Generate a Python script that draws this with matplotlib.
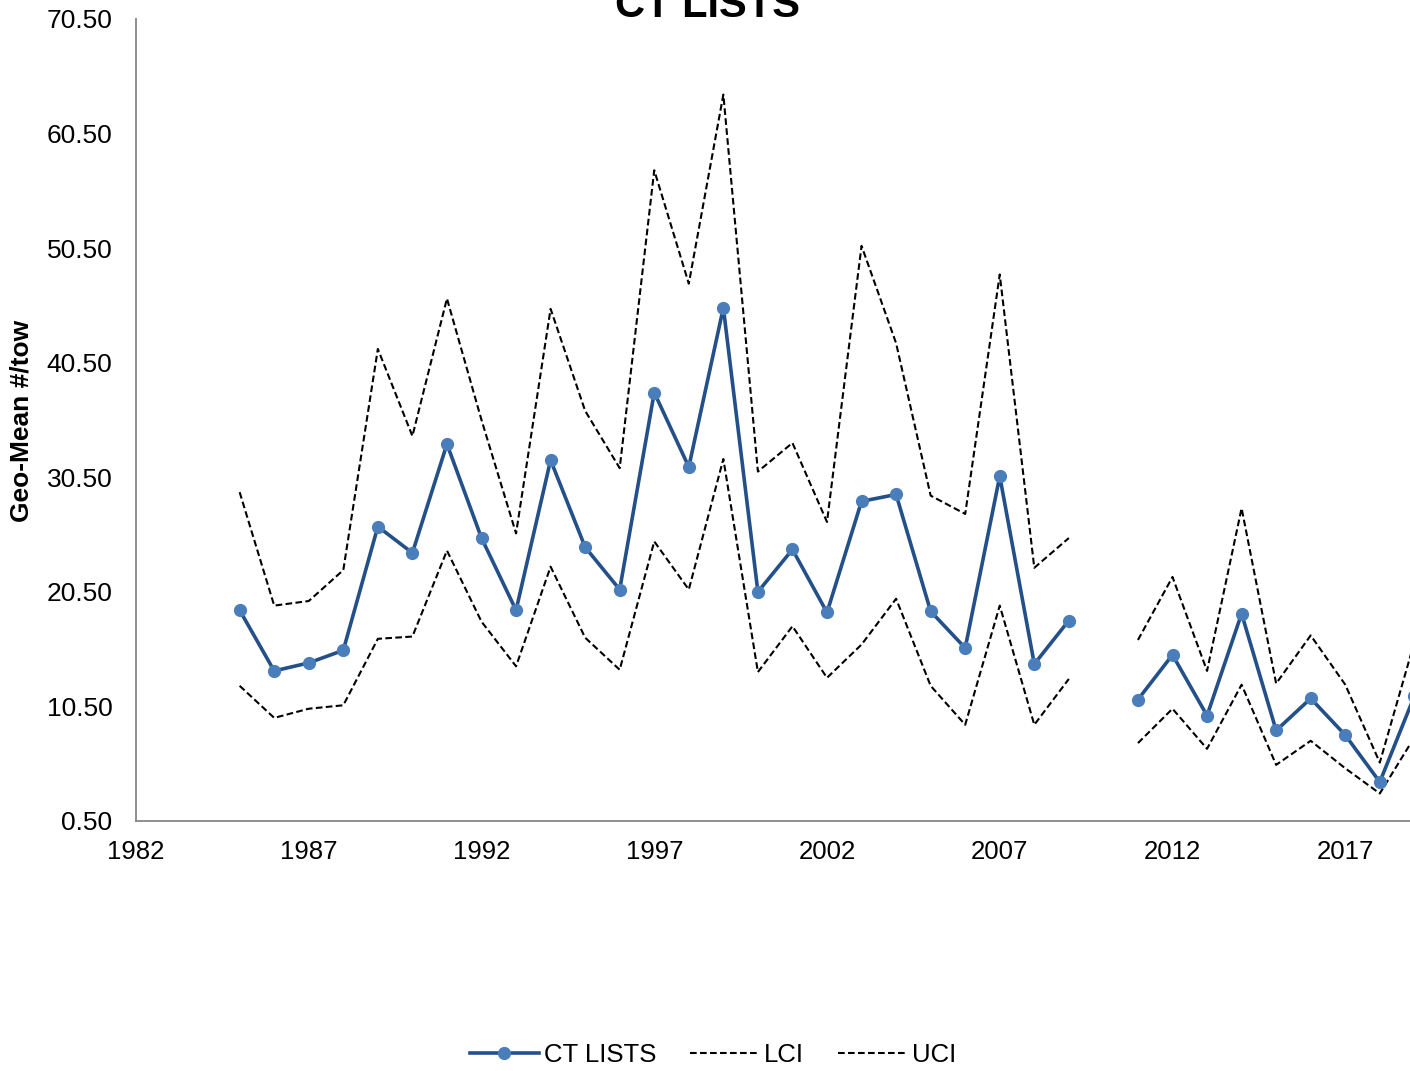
import matplotlib
matplotlib.use("Agg")
import matplotlib.pyplot as plt
import numpy as np

plt.rcParams['font.family'] = ['Liberation Sans', 'DejaVu Sans']

# Survey years (2010 has no estimate)
years = [1985, 1986, 1987, 1988, 1989, 1990, 1991, 1992, 1993, 1994,
         1995, 1996, 1997, 1998, 1999, 2000, 2001, 2002, 2003, 2004,
         2005, 2006, 2007, 2008, 2009, 2010, 2011, 2012, 2013, 2014,
         2015, 2016, 2017, 2018, 2019]

geo_mean = [18.9, 13.6, 14.3, 15.4, 26.2, 23.9, 33.4, 25.2, 18.9, 32.0,
            24.4, 20.7, 37.9, 31.4, 45.3, 20.5, 24.2, 18.7, 28.4, 29.0,
            18.8, 15.6, 30.6, 14.2, 18.0, np.nan, 11.1, 15.0, 9.7, 18.6,
            8.4, 11.2, 8.0, 3.9, 11.4]

lci = [12.3, 9.5, 10.3, 10.6, 16.4, 16.6, 24.1, 17.9, 14.0, 22.7,
       16.5, 13.7, 24.9, 20.7, 32.1, 13.5, 17.5, 13.0, 15.9, 19.9,
       12.3, 8.9, 19.3, 8.9, 12.9, np.nan, 7.3, 10.3, 6.8, 12.4,
       5.4, 7.5, 5.1, 2.9, 7.8]

uci = [29.2, 19.3, 19.7, 22.4, 41.7, 34.1, 46.1, 35.5, 25.6, 45.2,
       36.3, 31.3, 57.3, 47.4, 63.9, 31.0, 33.5, 26.6, 50.7, 42.2,
       28.9, 27.3, 48.2, 22.6, 25.2, np.nan, 16.3, 21.8, 13.6, 27.8,
       12.5, 16.7, 12.4, 5.6, 16.1]

x_ticks = [1982, 1987, 1992, 1997, 2002, 2007, 2012, 2017]
y_ticks = [0.5, 10.5, 20.5, 30.5, 40.5, 50.5, 60.5, 70.5]

fig = plt.figure(figsize=(14.10, 10.71), dpi=100)
ax = fig.add_axes([136 / 1410, 250 / 1071, 1382 / 1410, 802 / 1071])

ax.plot(years, geo_mean, color='#245089', lw=2.6, marker='o', ms=8.5,
        mfc='#4A7EBB', mec='#4A7EBB', label='CT LISTS', zorder=3)
ax.plot(years, lci, color='black', lw=1.5, ls=(0, (3.2, 1.6)), label='LCI')
ax.plot(years, uci, color='black', lw=1.5, ls=(0, (3.2, 1.6)), label='UCI')

ax.set_xlim(1982, 2022)
ax.set_ylim(0.5, 70.5)
ax.set_xticks(x_ticks)
ax.set_yticks(y_ticks)
ax.set_yticklabels([f"{v:.2f}" for v in y_ticks])
ax.tick_params(axis='y', length=0, labelsize=19, pad=17)
ax.tick_params(axis='x', length=0, labelsize=18.5, pad=14)

for side in ('top', 'right'):
    ax.spines[side].set_visible(False)
for side in ('left', 'bottom'):
    ax.spines[side].set_color('#868686')
    ax.spines[side].set_linewidth(1.3)

fig.text(22 / 1410, 1 - 421 / 1071, 'Geo-Mean #/tow', rotation=90,
         ha='center', va='center', fontsize=19, fontweight='bold')

fig.text(708 / 1410, 1 - 17 / 1071, 'CT LISTS', ha='center', va='baseline',
         fontsize=30, fontweight='bold')

fig.legend(loc='center', bbox_to_anchor=(713 / 1410, 1 - 1055 / 1071),
           ncol=3, frameon=False, fontsize=18.5, handlelength=2.7,
           handletextpad=0.2, columnspacing=1.3)

fig.savefig('out.png', dpi=100)
